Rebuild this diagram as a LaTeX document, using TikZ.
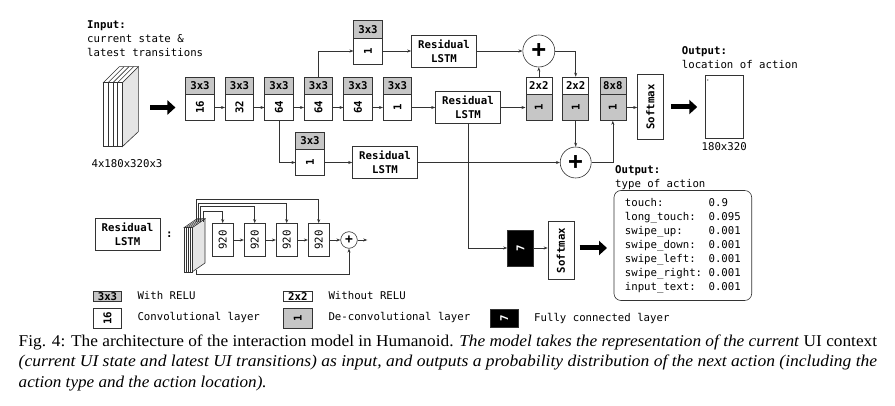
\documentclass[tikz,border=0pt]{standalone}
\usepackage{fontspec}
\setmainfont{Liberation Serif}
\setmonofont{DejaVu Sans Mono}
\usepackage{graphicx}
\usetikzlibrary{arrows.meta}

\newcommand\lab{\fontsize{10.7}{14}\selectfont\ttfamily}
\newcommand\capfont{\fontsize{16.5}{20}\selectfont\rmfamily}

\tikzset{
  arr/.style={-{Stealth[length=4pt,width=3pt]}, line width=0.6pt, draw=black!80},
  bigarr/.style={-{Triangle[length=8pt,width=14pt]}, line width=5pt},
  blk/.style={draw=black!80, line width=0.6pt, inner sep=0pt, font=\lab\bfseries},
  hd/.style={blk, minimum width=28.5pt, minimum height=17.5pt, fill=gray!45},
  cv/.style={blk, minimum width=28.5pt, minimum height=26pt, fill=white},
  dhd/.style={hd, minimum width=26pt},
  dcv/.style={cv, minimum width=26pt, fill=gray!45},
  lstm/.style={blk, minimum width=65pt, minimum height=32pt, align=center},
  smax/.style={blk, minimum width=26pt},
  fc/.style={blk, fill=black, text=white, minimum width=26pt, minimum height=36pt},
  cell/.style={blk, font=\lab, minimum width=21pt, minimum height=33pt},
  plus/.style={circle, draw=black!80, line width=0.6pt, minimum size=32pt, inner sep=0pt,
    font=\fontsize{24}{24}\selectfont\bfseries\ttfamily},
  splus/.style={plus, minimum size=16.6pt, font=\fontsize{13}{13}\selectfont\bfseries\ttfamily},
  txt/.style={anchor=base west, inner sep=0pt, font=\lab}
}

\begin{document}
\begin{tikzpicture}[x=1pt, y=-1pt]
\useasboundingbox (0,0) rectangle (895,406);

% input
\node[txt, font=\lab\bfseries] (in1) at (87,28.3) {Input:};
\node[txt] (in2) at (87,42.3) {current state \&};
\node[txt] (in3) at (87,56.3) {latest transitions};
\filldraw[fill=gray!20, draw=black!80, line width=0.6pt] (122.3,82.7) -- (138.3,66.7) -- (138.3,131.7) -- (122.3,146.7) -- cycle;
\filldraw[fill=white, draw=black!80, line width=0.6pt] (103.3,82.7) -- (119.3,66.7) -- (138.3,66.7) -- (122.3,82.7) -- cycle;
\filldraw[fill=white, draw=black!80, line width=0.6pt] (103.3,82.7) rectangle (122.3,146.7);
\foreach \x in {108.1,112.9,117.6} {
  \draw[black!80, line width=0.6pt] (\x,82.7) -- (\x,146.7);
  \draw[black!80, line width=0.6pt] (\x,82.7) -- ++(16,-16);
}
\coordinate (inp) at (138.3,107.5);
\node[anchor=base, inner sep=0pt, font=\lab] (insz) at (127,167.3) {4x180x320x3};

% main row
\foreach \n/\x/\c in {1/200/16, 2/239.5/32, 3/279/64, 4/318.5/64, 5/358/64, 6/397.5/1} {
  \node[hd] (h\n) at (\x,85.75) {3x3};
  \node[cv] (c\n) at (\x,107.5) {\rotatebox{90}{\c}};
}
\foreach \a/\b in {1/2, 2/3, 3/4, 4/5, 5/6} \draw[arr] (c\a) -- (c\b);
\draw[bigarr] ([xshift=12pt]inp) -- ([xshift=-10pt]c1.west);

% branches
\node[hd] (uh) at (368,29.25) {3x3};
\node[cv] (u1) at (368,51) {\rotatebox{90}{1}};
\node[hd] (lh) at (310,140.75) {3x3};
\node[cv] (l1) at (310,162.5) {\rotatebox{90}{1}};
\node[lstm] (ulstm) at (444,51) {Residual\\LSTM};
\node[lstm] (mlstm) at (468,107.5) {Residual\\LSTM};
\node[lstm] (llstm) at (385,162.5) {Residual\\LSTM};
\draw[arr] (h4.north) |- (u1.west);
\draw[arr] (c3.south) |- (l1.west);
\draw[arr] (u1) -- (ulstm);
\draw[arr] (c6) -- (mlstm);
\draw[arr] (l1) -- (llstm);

% decoder
\node[dhd, fill=white] (dh1) at (538.8,85.75) {2x2};
\node[dcv] (d1) at (538.8,107.5) {\rotatebox{90}{1}};
\node[dhd, fill=white] (dh2) at (575.7,85.75) {2x2};
\node[dcv] (d2) at (575.7,107.5) {\rotatebox{90}{1}};
\node[dhd] (dh3) at (612.8,85.75) {8x8};
\node[dcv] (d3) at (612.8,107.5) {\rotatebox{90}{1}};
\node[plus] (pu) at (538.8,51) {+};
\node[plus, minimum size=31pt] (pl) at (575.7,162.5) {+};
\draw[arr] (ulstm) -- (pu);
\draw[arr] (dh1) -- (pu);
\draw[arr] (pu.east) -| (dh2.north);
\draw[arr] (mlstm) -- (d1);
\draw[arr] (d2) -- (pl);
\draw[arr] (llstm) -- (pl);
\draw[arr] (pl.east) -| (d3.south);

% location output
\node[smax, minimum height=65pt] (sm1) at (650.5,107) {\rotatebox{90}{Softmax}};
\draw[arr] (d3) -- (d3 -| sm1.west);
\node[draw=black!80, line width=0.6pt, minimum width=38.3pt, minimum height=63pt, inner sep=0pt] (locmap) at (724.2,107) {};
\fill[gray] (707.8,80) circle (0.9pt);
\draw[bigarr] ([xshift=7pt]sm1.east) -- ([xshift=-7.5pt]locmap.west);
\node[txt, font=\lab\bfseries] (out1) at (681.7,54.3) {Output:};
\node[txt] (out2) at (681.7,68.3) {location of action};
\node[anchor=base, inner sep=0pt, font=\lab] (outsz) at (724.2,150.7) {180x320};

% type output
\node[fc] (fc) at (520.5,248) {\rotatebox{90}{7}};
\node[smax, minimum height=58pt] (sm2) at (561,250.5) {\rotatebox{90}{Softmax}};
\draw[arr] (mlstm.south) |- (fc.west);
\draw[arr] (fc.east) -- (fc.east -| sm2.west);
\draw[bigarr] ([xshift=5.3pt]sm2.east |- fc.east) -- ++(27.4,0);
\node[txt, font=\lab\bfseries] (out3) at (615,173.3) {Output:};
\node[txt] (out4) at (615,187.3) {type of action};
\node[draw=black!80, line width=0.6pt, rounded corners=7pt, minimum width=137.7pt, minimum height=110pt,
  inner sep=0pt, font=\lab] (typebox) at (682.85,245.5) {%
  \begin{tabular}{@{}l@{ }l@{}}
  touch: & 0.9\\
  long\_touch: & 0.095\\
  swipe\_up: & 0.001\\
  swipe\_down: & 0.001\\
  swipe\_left: & 0.001\\
  swipe\_right: & 0.001\\
  input\_text: & 0.001
  \end{tabular}};

% residual lstm module
\node[lstm] (rl) at (127.5,234) {Residual\\LSTM};
\node[inner sep=0pt, font=\lab\bfseries] (colon) at (169.3,235) {:};
\filldraw[fill=gray!20, draw=black!80, line width=0.6pt] (192,227.7) -- (205,218.7) -- (205,263) -- (192,272) -- cycle;
\filldraw[fill=white, draw=black!80, line width=0.6pt] (184,227.7) -- (197,218.7) -- (205,218.7) -- (192,227.7) -- cycle;
\filldraw[fill=white, draw=black!80, line width=0.6pt] (184,227.7) rectangle (192,272);
\foreach \x in {186,188,190} {
  \draw[black!80, line width=0.5pt] (\x,227.7) -- (\x,272);
  \draw[black!80, line width=0.5pt] (\x,227.7) -- ++(13,-9);
}
\foreach \n/\x in {1/222.7, 2/254.7, 3/286.7, 4/318.7}
  \node[cell] (r\n) at (\x,240) {\rotatebox{90}{920}};
\node[splus] (ps) at (349,240) {+};
\coordinate (rout) at (367.3,240);
\foreach \a/\b in {r1/r2, r2/r3, r3/r4, r4/ps, ps/rout} \draw[arr] (\a) -- (\b);
\foreach \n/\x/\y in {4/196/199.3, 3/198.7/203.3, 2/200.7/206.7, 1/203.3/211}
  \draw[arr] (\x,222) -- (\x,\y) -| (r\n.north);
\draw[arr] (196,270) -- (196,274) -| (ps.south);

% legend
\node[hd, minimum height=10pt] (k1) at (107.5,296.2) {3x3};
\node[cv, minimum height=20pt] (k2) at (107.5,318.3) {\rotatebox{90}{16}};
\node[hd, fill=white, minimum width=29pt, minimum height=10pt] (k3) at (297.8,296.2) {2x2};
\node[dcv, minimum width=29pt, minimum height=20pt] (k4) at (297.8,318.3) {\rotatebox{90}{1}};
\node[fc, minimum width=28.3pt, minimum height=17.7pt] (k5) at (504.2,318) {\rotatebox{90}{7}};
\node[txt] (t1) at (137.3,300) {With RELU};
\node[txt] (t2) at (137.3,321) {Convolutional layer};
\node[txt] (t3) at (328.3,300) {Without RELU};
\node[txt] (t4) at (328.3,321) {De-convolutional layer};
\node[txt] (t5) at (534,322) {Fully connected layer};

% caption
\node[anchor=base west, inner sep=0pt, font=\capfont] (cap1) at (18.5,346.5)
  {\resizebox{858.5pt}{\height}{Fig. 4: The architecture of the interaction model in Humanoid. \textit{The model takes the representation of the current} UI context}};
\node[anchor=base west, inner sep=0pt, font=\capfont] (cap2) at (18.5,366.8)
  {\resizebox{858.5pt}{\height}{\textit{(current UI state and latest UI transitions) as input, and outputs a probability distribution of the next action (including the}}};
\node[anchor=base west, inner sep=0pt, font=\capfont] (cap3) at (18.5,387.3)
  {\resizebox{248pt}{\height}{\textit{action type and the action location).}}};
\end{tikzpicture}
\end{document}
